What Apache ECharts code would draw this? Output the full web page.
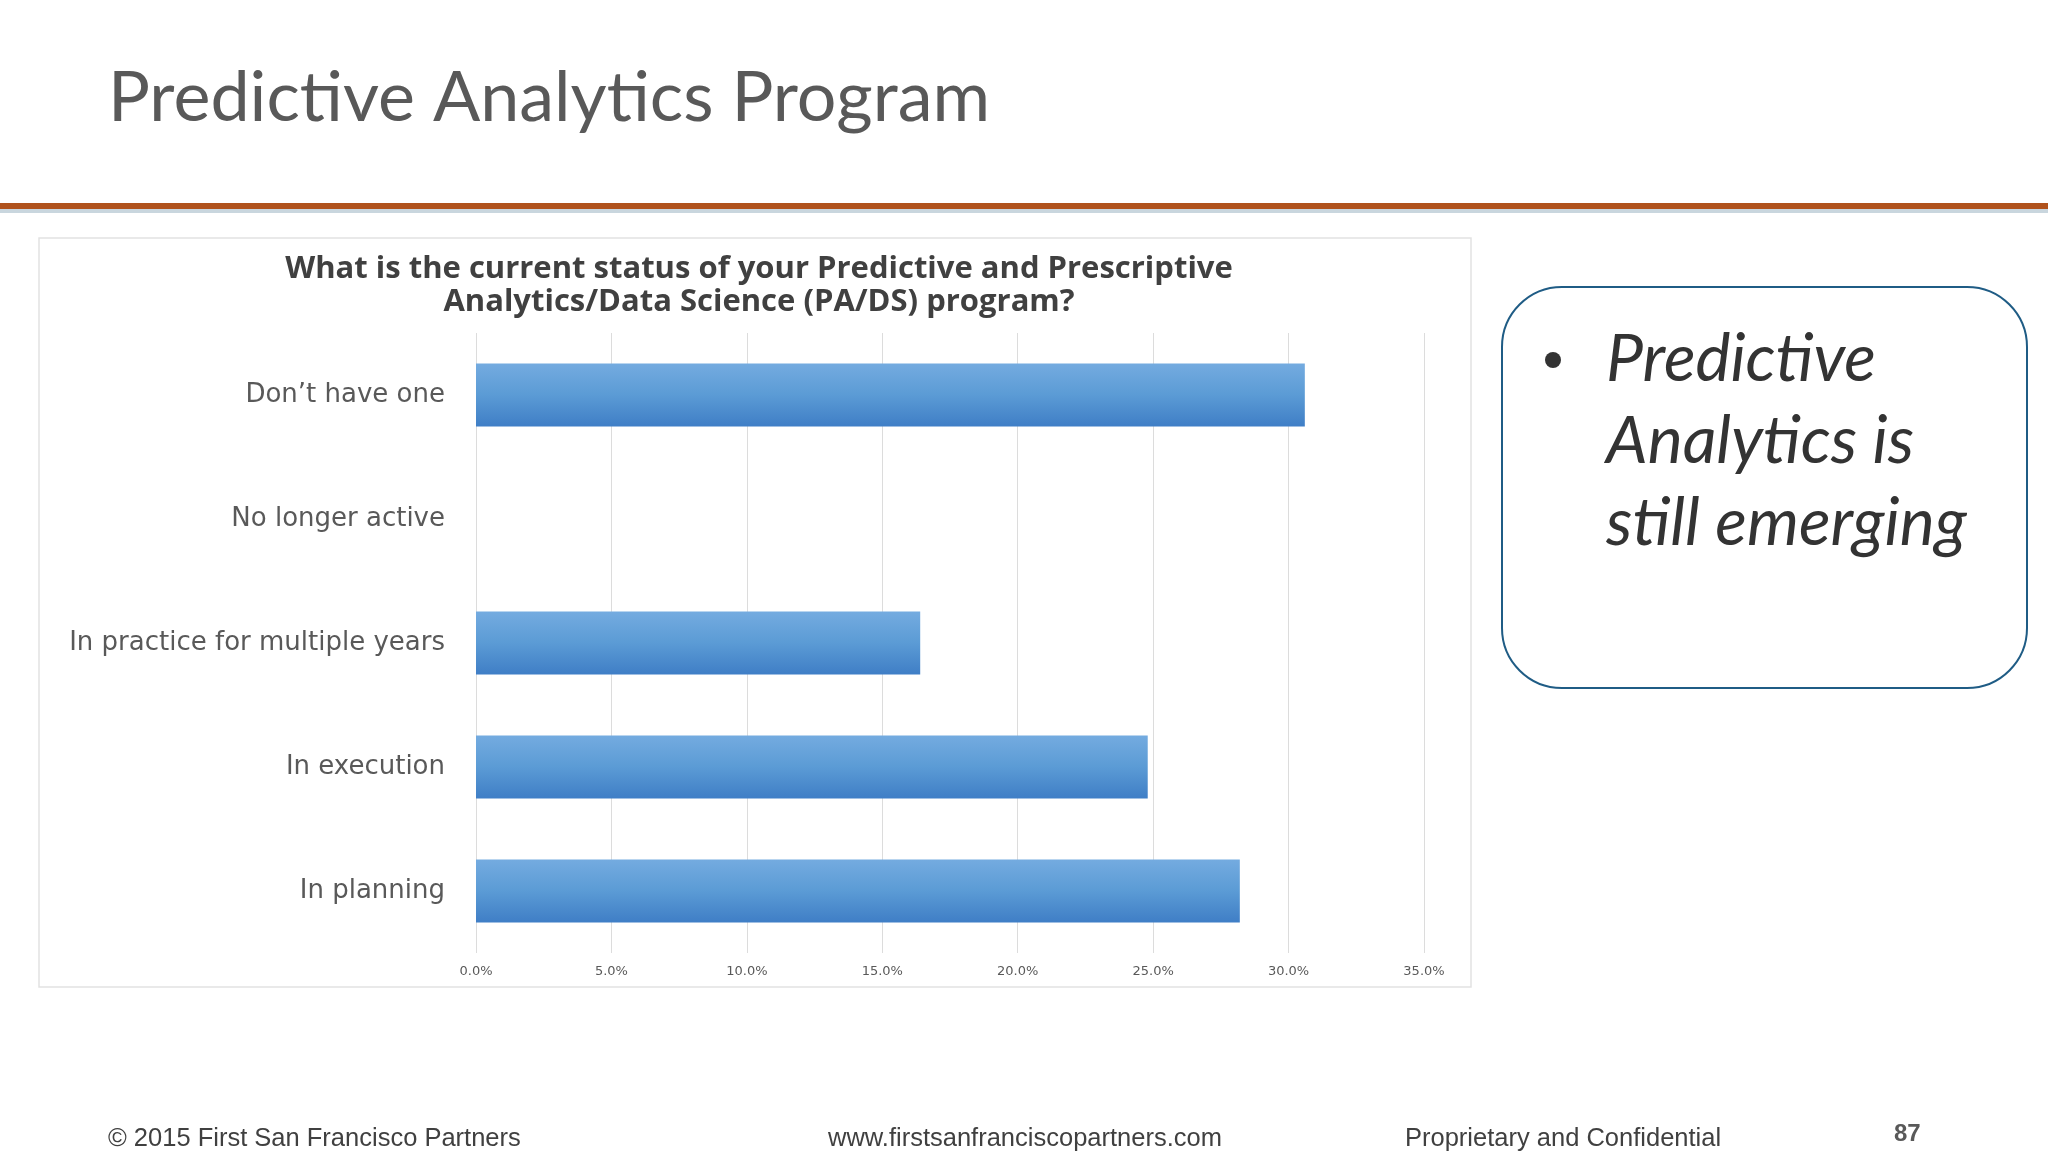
<!DOCTYPE html>
<html>
<head>
<meta charset="utf-8">
<script src="https://cdn.jsdelivr.net/npm/echarts@6/dist/echarts.min.js"></script>
<style>
  html, body { margin: 0; padding: 0; background: #ffffff; }
  #main { width: 2048px; height: 1152px; }
</style>
</head>
<body>
<div id="main"></div>
<script>
// categories, top to bottom as on the slide
var categories = ['Don\u2019t have one', 'No longer active', 'In practice for multiple years', 'In execution', 'In planning'];
// share of respondents, percent
var shares = [30.6, 0, 16.4, 24.8, 28.2];
var axisTicks = [0, 5, 10, 15, 20, 25, 30, 35];

var myChart = echarts.init(document.getElementById('main'));

var option = {
    backgroundColor: '#ffffff',
    animation: false,
    title: [{
        text: 'What is the current status of your Predictive and Prescriptive\nAnalytics/Data Science (PA/DS) program?',
        left: 754,
        top: 248,
        textAlign: 'center',
        textStyle: {
            fontFamily: 'Open Sans',
            fontWeight: 'bold',
            fontSize: 31,
            lineHeight: 33,
            color: '#404040'
        }
    }],
    grid: {
        left: 476,
        right: 624,
        top: 333,
        height: 620
    },
    xAxis: {
        type: 'value',
        min: axisTicks[0],
        max: axisTicks[axisTicks.length - 1],
        interval: 5,
        axisLine: { show: false },
        axisTick: { show: false },
        splitLine: { show: true, lineStyle: { color: '#dcdcdc', width: 1 } },
        axisLabel: {
            margin: 12,
            fontFamily: 'DejaVu Sans',
            fontSize: 13,
            color: '#595959',
            formatter: function (v) { return v.toFixed(1) + '%'; }
        }
    },
    yAxis: {
        type: 'category',
        data: categories,
        inverse: true,
        axisLine: { show: false },
        axisTick: { show: false },
        axisLabel: {
            margin: 31,
            fontFamily: 'DejaVu Sans',
            fontSize: 26,
            color: '#595959'
        }
    },
    series: [{
        type: 'bar',
        data: shares,
        barCategoryGap: '49%',
        itemStyle: {
            color: new echarts.graphic.LinearGradient(0, 0, 0, 1, [
                { offset: 0, color: '#74abe0' },
                { offset: 0.5, color: '#5b9bd5' },
                { offset: 1, color: '#3f7ec6' }
            ])
        }
    }],
    graphic: [
        // chart frame
        { type: 'rect', z: -1, shape: { x: 39, y: 238, width: 1432, height: 749 },
          style: { fill: '#ffffff', stroke: '#e2e2e2', lineWidth: 1.5 } },
        // slide title
        { type: 'text', left: 108, top: 63,
          style: { text: 'Predictive Analytics Program', font: '70px Lato', fill: '#595959' } },
        // rule under the title
        { type: 'rect', shape: { x: 0, y: 209, width: 2048, height: 4 }, style: { fill: '#c9d6de' } },
        { type: 'rect', shape: { x: 0, y: 203, width: 2048, height: 6 }, style: { fill: '#b0521c' } },
        // callout box
        { type: 'rect', shape: { x: 1502, y: 287, width: 525, height: 401, r: 60 },
          style: { fill: '#ffffff', stroke: '#1f5c85', lineWidth: 2 } },
        { type: 'circle', shape: { cx: 1553, cy: 360, r: 8 }, style: { fill: '#333333' } },
        { type: 'text', left: 1606, top: 319,
          style: { text: 'Predictive\nAnalytics is\nstill emerging', font: 'italic 66px Lato', lineHeight: 82, fill: '#333333' } },
        // footer
        { type: 'text', left: 108, top: 1126,
          style: { text: '\u00a9 2015 First San Francisco Partners', font: '25.5px "Liberation Sans"', fill: '#404040' } },
        { type: 'text', left: 828, top: 1126,
          style: { text: 'www.firstsanfranciscopartners.com', font: '25.5px "Liberation Sans"', fill: '#404040' } },
        { type: 'text', left: 1405, top: 1126,
          style: { text: 'Proprietary and Confidential', font: '25.5px "Liberation Sans"', fill: '#404040' } },
        { type: 'text', left: 1894, top: 1122,
          style: { text: '87', font: 'bold 24px "Liberation Sans"', fill: '#595959' } }
    ]
};

myChart.setOption(option);
</script>
</body>
</html>
